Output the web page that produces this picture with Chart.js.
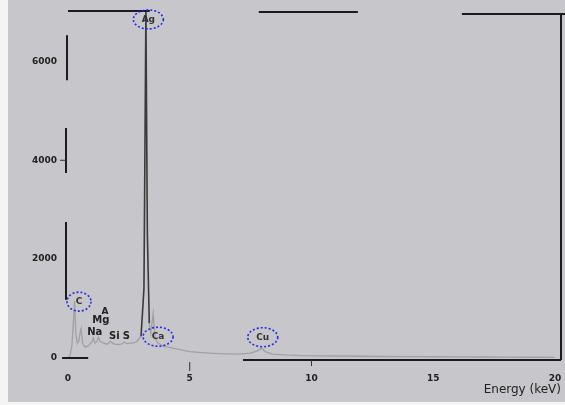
<!DOCTYPE html>
<html><head><meta charset="utf-8">
<script src="https://cdn.jsdelivr.net/npm/chart.js@4/dist/chart.umd.min.js"></script>
<style>
html,body{margin:0;padding:0;background:#c6c6cb;}
#wrap{position:absolute;left:0;top:0;width:565px;height:405px;}
#strip{position:absolute;left:0;top:0;width:8px;height:405px;background:#f4f4f4;}
#strip2{position:absolute;left:0;top:402px;width:565px;height:3px;background:#f4f4f4;}
</style></head><body>
<div id="wrap"><canvas id="c" width="565" height="405"></canvas></div>
<div id="strip"></div><div id="strip2"></div>
<script>
// Spectrum (energy in keV, counts)
const energy = [0, 0.08, 0.16, 0.22, 0.27, 0.32, 0.38, 0.45, 0.5, 0.54, 0.6, 0.7, 0.85, 0.98, 1.04, 1.1, 1.18, 1.25, 1.32, 1.45, 1.62, 1.74, 1.85, 2.0, 2.2, 2.31, 2.42, 2.6, 2.8, 3.0, 3.12, 3.2, 3.26, 3.34, 3.4, 3.45, 3.5, 3.58, 3.7, 3.9, 4.2, 4.6, 5.0, 5.5, 6.0, 6.5, 7.0, 7.5, 7.8, 7.95, 8.1, 8.4, 9.0, 10, 11, 12, 13, 14, 15, 16, 17, 18, 19, 20];
const counts = [0, 40, 250, 700, 1150, 500, 300, 350, 520, 600, 300, 220, 250, 330, 400, 300, 330, 420, 340, 300, 280, 340, 290, 270, 280, 320, 290, 300, 320, 440, 1400, 7000, 2500, 700, 500, 700, 900, 400, 300, 240, 210, 170, 130, 110, 95, 85, 80, 100, 150, 200, 130, 80, 60, 45, 40, 35, 30, 28, 25, 22, 20, 18, 15, 12];
// Tick labels
const xTicks = [0, 5, 10, 15, 20];
const yTicks = [0, 2000, 4000, 6000];
// Circled element labels
const circLabels = ['C', 'Ag', 'Ca', 'Cu'];
const circEnergy = [0.45, 3.3, 3.7, 8.0];
const circCounts = [1140, 6850, 430, 420];
// Plain element labels
const textLabels = ['Mg', 'Na', 'Si', 'S', 'A'];
const textEnergy = [1.35, 1.1, 1.9, 2.4, 1.52];
const textCounts = [770, 510, 430, 430, 940];

const points = energy.map((e, i) => ({x: e, y: counts[i]}));

const frame = {
  id: 'frame',
  afterDatasetsDraw(chart) {
    const {ctx, chartArea: a} = chart;
    const W = a.right - a.left, H = a.bottom - a.top;
    const X = f => a.left + f * W, Y = f => a.top + f * H;
    ctx.save();
    ctx.strokeStyle = '#1c1c1c';
    ctx.lineWidth = 2;
    const seg = (x1, y1, x2, y2) => { ctx.beginPath(); ctx.moveTo(x1, y1); ctx.lineTo(x2, y2); ctx.stroke(); };
    // top
    seg(X(0), Y(0) - 1, X(0.166), Y(0) - 1);
    seg(X(0.387), Y(0), X(0.588), Y(0));
    seg(X(0.799), Y(0) + 2, a.right + 4, Y(0) + 2);
    // right
    seg(a.right, Y(0) + 2, a.right, a.bottom + 2);
    // left
    seg(X(0) - 1, Y(0.067), X(0) - 1, Y(0.197));
    seg(X(0) - 2, Y(0.335), X(0) - 2, Y(0.465));
    seg(X(0) - 2, Y(0.607), X(0) - 2, Y(0.832));
    // bottom
    seg(X(-0.012), a.bottom, X(0.041), a.bottom);
    seg(X(0.355), a.bottom + 2, a.right, a.bottom + 2);
    ctx.lineWidth = 1;
    ctx.strokeStyle = '#333';
    const xs = chart.scales.x;
    seg(xs.getPixelForValue(5), a.bottom + 4, xs.getPixelForValue(5), a.bottom + 13);
    seg(xs.getPixelForValue(10), a.bottom + 2, xs.getPixelForValue(10), a.bottom + 8);
    seg(X(0) - 8, chart.scales.y.getPixelForValue(4000), X(0) - 2, chart.scales.y.getPixelForValue(4000));
    ctx.restore();
  }
};

const labels = {
  id: 'labels',
  afterDatasetsDraw(chart) {
    const {ctx} = chart;
    const xs = chart.scales.x, ys = chart.scales.y;
    ctx.save();
    ctx.textAlign = 'center';
    ctx.textBaseline = 'middle';
    circLabels.forEach((t, i) => {
      const px = xs.getPixelForValue(circEnergy[i]);
      const py = ys.getPixelForValue(circCounts[i]);
      const rx = t.length > 1 ? 15 : 12, ry = 9.5;
      ctx.strokeStyle = '#2a2ae0';
      ctx.lineWidth = 1.6;
      ctx.setLineDash([2, 2]);
      ctx.beginPath();
      ctx.ellipse(px, py, rx, ry, 0, 0, Math.PI * 2);
      ctx.stroke();
      ctx.setLineDash([]);
      ctx.fillStyle = '#333';
      ctx.font = 'bold 9px "DejaVu Sans", sans-serif';
      ctx.fillText(t, px, py);
    });
    textLabels.forEach((t, i) => {
      const px = xs.getPixelForValue(textEnergy[i]);
      const py = ys.getPixelForValue(textCounts[i]);
      ctx.fillStyle = '#222';
      ctx.font = t === 'A' ? 'bold 9px "DejaVu Sans", sans-serif' : 'bold 10px "DejaVu Sans", sans-serif';
      ctx.fillText(t, px, py);
    });
    ctx.restore();
  }
};

const tickFont = {size: 9, weight: 'bold', family: '"DejaVu Sans", sans-serif'};

new Chart(document.getElementById('c'), {
  type: 'line',
  data: {
    datasets: [{
      data: points,
      borderColor: '#a0a0a5',
      borderWidth: 1.3,
      pointRadius: 0,
      tension: 0,
      segment: {
        borderColor: s => (s.p0.parsed.y > 1300 || s.p1.parsed.y > 1300) ? '#3a3a3a' : undefined,
        borderWidth: s => (s.p0.parsed.y > 1300 || s.p1.parsed.y > 1300) ? 1.6 : undefined
      }
    }]
  },
  plugins: [frame, labels],
  options: {
    responsive: false,
    animation: false,
    layout: {padding: {top: 12, right: 4, left: 0, bottom: 0}},
    plugins: {legend: {display: false}, tooltip: {enabled: false}},
    scales: {
      x: {
        type: 'linear', min: 0, max: 20.25,
        afterBuildTicks: s => { s.ticks = xTicks.map(v => ({value: v})); },
        afterFit: s => { s.height = 47; s.paddingLeft = 0; s.paddingRight = 0; },
        grid: {display: false, drawTicks: false},
        border: {display: false},
        ticks: {color: '#222', font: tickFont, padding: 15, maxRotation: 0, callback: v => String(v)},
        title: {display: true, text: 'Energy (keV)', align: 'end', color: '#222', font: {size: 12, family: '"DejaVu Sans", sans-serif'}, padding: {top: 0, bottom: 8}}
      },
      y: {
        min: 0, max: 7000,
        afterBuildTicks: s => { s.ticks = yTicks.map(v => ({value: v})); },
        afterFit: s => { s.width = 68; s.paddingTop = 0; s.paddingBottom = 0; },
        grid: {display: false, drawTicks: false},
        border: {display: false},
        ticks: {color: '#222', font: tickFont, padding: 11, callback: v => String(v)}
      }
    }
  }
});
</script>
</body></html>
